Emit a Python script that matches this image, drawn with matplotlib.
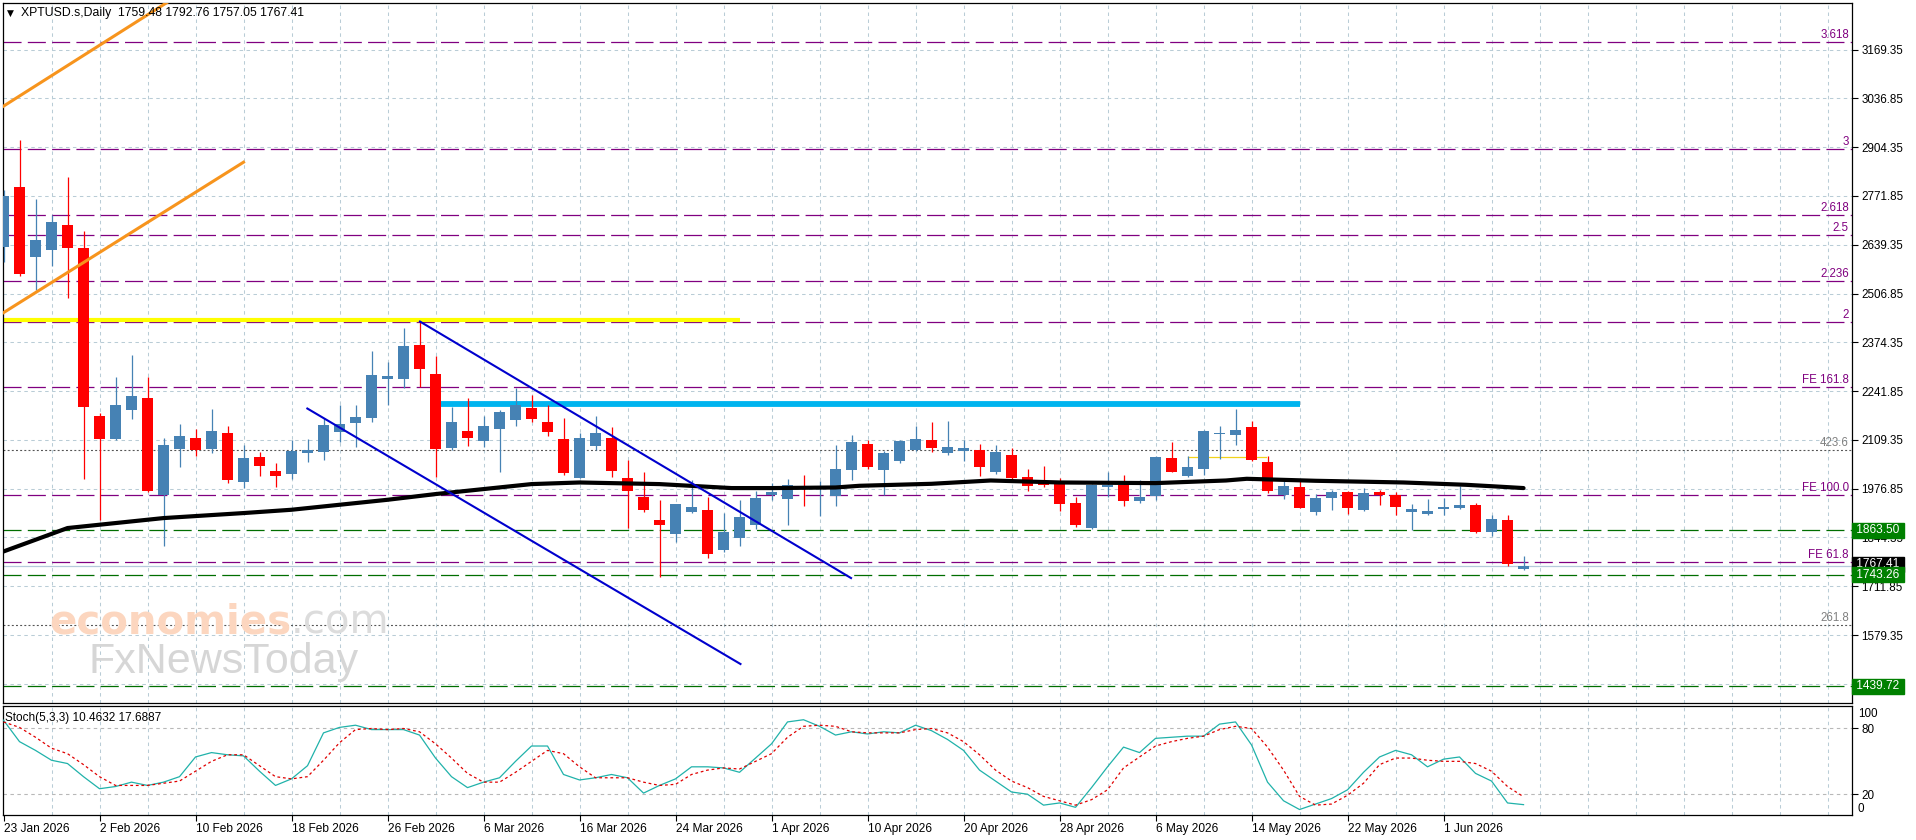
import matplotlib
matplotlib.use('Agg')
import matplotlib.pyplot as plt
import matplotlib.transforms as mtransforms

plt.rcParams['lines.scale_dashes'] = False
plt.rcParams['font.family'] = ['Liberation Sans', 'DejaVu Sans']

# ------------------------------------------------------------------ data
date_labels = ["23 Jan 2026", "2 Feb 2026", "10 Feb 2026", "18 Feb 2026", "26 Feb 2026",
               "6 Mar 2026", "16 Mar 2026", "24 Mar 2026", "1 Apr 2026", "10 Apr 2026",
               "20 Apr 2026", "28 Apr 2026", "6 May 2026", "14 May 2026", "22 May 2026",
               "1 Jun 2026"]
date_pos = [0, 6, 12, 18, 24, 30, 36, 42, 48, 54, 60, 66, 72, 78, 84, 90]

opens = [2634.4, 2797.3, 2607.3, 2626.3, 2693.3, 2630.9, 2174.8, 2111.5, 2191.0, 2224.4,
         1960.3, 2085.2, 2115.0, 2085.2, 2128.6, 1994.8, 2062.6, 2025.4, 2016.5, 2073.5,
         2076.2, 2132.1, 2156.6, 2170.1, 2274.4, 2276.0, 2367.5, 2288.8, 2088.7, 2134.0,
         2107.7, 2140.3, 2164.7, 2197.3, 2158.5, 2112.3, 2007.2, 2093.3, 2115.0, 2005.6,
         1954.8, 1892.4, 1852.5, 1912.2, 1917.6, 1809.0, 1841.6, 1878.8, 1958.4, 1947.5,
         1982.0, 1976.6, 1955.7, 2026.3, 2098.7, 2026.3, 2050.7, 2082.4, 2109.6, 2073.5,
         2078.9, 2082.4, 2020.8, 2068.9, 2009.1, 1996.4, 1990.1, 1938.6, 1868.8, 1980.1,
         1987.4, 1943.2, 1955.7, 2060.7, 2010.0, 2029.0, 2125.1, 2124.0, 2144.9, 2049.9,
         1960.3, 1980.1, 1912.2, 1951.3, 1968.4, 1917.6, 1967.6, 1958.4, 1912.2, 1906.8,
         1920.4, 1925.0, 1933.1, 1859.0, 1892.4, 1759.48]
highs = [2788.3, 2924.1, 2763.9, 2720.5, 2824.5, 2677.0, 2182.1, 2281.5, 2340.4, 2281.5,
         2114.2, 2153.0, 2138.6, 2194.6, 2147.6, 2096.0, 2077.8, 2046.3, 2109.6, 2111.5,
         2168.5, 2204.6, 2204.6, 2351.2, 2320.6, 2412.9, 2430.8, 2337.7, 2200.0, 2222.8,
         2174.8, 2191.0, 2250.0, 2231.8, 2204.6, 2168.5, 2129.4, 2174.8, 2145.7, 2055.3,
         2020.8, 1946.7, 1935.8, 2001.0, 1954.0, 1910.6, 1944.8, 1970.3, 1992.0, 2003.7,
         2012.7, 1996.4, 2096.0, 2123.2, 2109.6, 2078.0, 2108.0, 2147.6, 2159.3, 2161.2,
         2108.8, 2098.7, 2096.0, 2087.1, 2030.0, 2039.0, 2005.6, 1952.9, 1990.0, 2020.8,
         2014.6, 1999.1, 2065.0, 2102.3, 2066.2, 2136.0, 2147.6, 2193.8, 2161.2, 2066.2,
         1999.1, 1996.4, 1962.2, 1973.8, 1970.0, 1978.5, 1973.8, 1966.6, 1935.8, 1948.6,
         1951.3, 1982.8, 1938.6, 1906.0, 1906.0, 1792.76]
lows = [2593.7, 2555.7, 2516.8, 2582.0, 2494.3, 2003.7, 1892.4, 2108.0, 2166.6, 1968.0,
        1819.9, 2034.4, 2064.3, 2075.1, 1992.0, 1978.5, 2010.0, 1980.1, 2002.9, 2048.0,
        2053.4, 2105.0, 2091.4, 2159.3, 2204.6, 2250.0, 2254.3, 2008.3, 2080.6, 2094.1,
        2091.4, 2023.5, 2147.6, 2159.3, 2121.3, 2014.6, 2005.6, 2082.4, 2008.3, 1869.9,
        1914.1, 1736.8, 1830.8, 1910.0, 1788.4, 1805.0, 1819.9, 1867.1, 1946.7, 1876.9,
        1930.4, 1903.3, 1930.4, 1999.1, 2030.0, 1959.5, 2047.0, 2079.0, 2076.2, 2068.1,
        2050.7, 2010.0, 2016.5, 2001.0, 1969.2, 1980.1, 1914.9, 1871.5, 1866.0, 1954.0,
        1928.5, 1936.7, 1946.7, 2020.8, 2008.3, 2014.6, 2057.2, 2096.0, 2051.8, 1964.9,
        1949.4, 1923.1, 1904.1, 1917.6, 1906.8, 1915.0, 1933.1, 1904.1, 1864.4, 1905.2,
        1905.2, 1921.4, 1856.3, 1849.0, 1768.0, 1757.05]
closes = [2772.1, 2560.3, 2652.6, 2701.5, 2631.7, 2198.4, 2111.5, 2204.6, 2229.1, 1971.9,
          2096.0, 2120.5, 2080.6, 2134.0, 1999.1, 2060.7, 2039.8, 2010.0, 2079.7, 2082.4,
          2151.1, 2153.0, 2172.9, 2286.1, 2283.4, 2364.8, 2302.4, 2085.2, 2158.5, 2115.8,
          2147.6, 2185.6, 2203.8, 2167.4, 2132.1, 2019.2, 2115.0, 2128.6, 2026.2, 1971.9,
          1917.6, 1878.8, 1935.8, 1927.7, 1800.1, 1859.8, 1900.5, 1952.1, 1966.5, 1987.4,
          1976.6, 1980.6, 2030.9, 2104.2, 2034.4, 2074.3, 2106.9, 2112.3, 2088.7, 2090.6,
          2087.9, 2034.4, 2077.0, 2007.2, 1982.8, 1985.5, 1933.9, 1876.9, 1987.4, 1987.4,
          1942.1, 1954.8, 2063.4, 2023.5, 2035.5, 2134.0, 2129.4, 2136.7, 2055.3, 1969.2,
          1984.7, 1923.1, 1952.1, 1967.6, 1923.1, 1964.9, 1959.5, 1925.8, 1922.3, 1916.0,
          1927.7, 1933.1, 1857.9, 1895.1, 1771.0, 1767.41]

ma_idx = [0, 4, 10, 15, 18, 24, 27, 33, 36, 41, 45.5, 48, 52, 53.5, 58, 61.7, 66, 72,
          76.4, 77.7, 82, 87.5, 91.4, 93.3, 95]
ma_val = [1806.3, 1869.9, 1897.0, 1910.6, 1919.6, 1946.7, 1962.2, 1989.3, 1993.7, 1989.3,
          1978.5, 1978.5, 1980.1, 1984.7, 1990.1, 1999.1, 1993.7, 1992.0, 1999.1, 2003.7,
          1998.3, 1993.7, 1987.4, 1982.8, 1978.5]

stoch_k = [87.6, 68, 60, 51, 48, 36, 25, 27, 31, 28, 31, 36, 54, 58, 56, 55, 41, 28, 34, 46,
           76, 81, 83, 79, 79, 79, 74, 53, 36, 26, 31, 35, 50, 64, 64, 38, 33, 35, 38, 35,
           21, 28, 34, 45, 45, 44, 40, 53, 66, 86, 88, 82, 74, 77, 75, 77, 76, 83, 78, 70,
           60, 42, 32, 22, 20, 10, 12, 8, 26, 45, 63, 58, 71, 72, 73, 73, 84, 86, 65, 31,
           14, 6, 11, 16, 24, 40, 54, 60, 56, 45, 52, 54, 39, 32, 12, 10.46]
stoch_d = [86, 81, 72, 62, 57, 47, 36, 28, 28, 28, 30, 32, 41, 50, 56, 56, 46, 36, 34, 36,
           51, 67, 79, 80, 79, 80, 77, 66, 53, 39, 31, 31, 40, 50, 60, 57, 45, 35, 35, 35,
           31, 28, 29, 38, 42, 44, 43, 50, 57, 72, 82, 83, 82, 77, 76, 76, 76, 79, 80, 76,
           68, 56, 42, 32, 26, 18, 14, 10, 15, 24, 44, 54, 64, 68, 71, 73, 79, 82, 80, 63,
           42, 18, 10, 11, 19, 30, 47, 53, 53, 51, 50, 50, 48, 41, 27, 17.69]

price_ticks = [3169.35, 3036.85, 2904.35, 2771.85, 2639.35, 2506.85, 2374.35, 2241.85,
               2109.35, 1976.85, 1844.35, 1711.85, 1579.35, 1446.85]
fib_levels = [3191.0, 2900.5, 2720.5, 2665.5, 2540.0, 2430.0, 2252.0, 1959.5, 1778.5]
fib_labels = ['3.618', '3', '2.618', '2.5', '2.236', '2', 'FE 161.8', 'FE 100.0', 'FE 61.8']
dot_levels = [2082.4, 1605.4]
dot_labels = ['423.6', '261.8']
sr_levels = [1863.50, 1743.26, 1439.72]
last_price = 1767.41
title_text = 'XPTUSD.s,Daily  1759.48 1792.76 1757.05 1767.41'
stoch_text = 'Stoch(5,3,3) 10.4632 17.6887'

orange_upper = ([-0.05, 12.0], [3014.5, 3346.5])
orange_lower = ([-0.05, 15.0], [2453.6, 2863.6])
blue_upper = ([26.03, 52.97], [2430.8, 1734.1])
blue_lower = ([18.99, 46.06], [2194.6, 1500.6])
yellow_line = ([-0.1, 46.0], [2435.4, 2435.4])
cyan_line = ([27.3, 81.0], [2207.3, 2207.3])
gold_line = ([74.0, 78.9], [2063.4, 2063.4])

# ------------------------------------------------------------------ layout
W, H = 1916, 840
fig = plt.figure(figsize=(W / 100, H / 100), dpi=100)
fig.patch.set_facecolor('white')
L, R = 2.7, 1851.7
MAIN_T, MAIN_B = 2.7, 703.0
ST_T, ST_B = 705.5, 815.0
ax = fig.add_axes([L / W, 1 - MAIN_B / H, (R - L) / W, (MAIN_B - MAIN_T) / H])
axs = fig.add_axes([L / W, 1 - ST_B / H, (R - L) / W, (ST_B - ST_T) / H])

XMIN, XMAX = -0.05, 115.51
for a in (ax, axs):
    a.set_xlim(XMIN, XMAX)
    for s in a.spines.values():
        s.set_color('black')
        s.set_linewidth(0.9)
ax.set_ylim(1394.7, 3296.9)
axs.set_ylim(1.0, 101.0)

GRID_C = '#b9ccd6'
gdash = (0, (2.5, 2.5))
vgrid = list(range(3, 116, 3))
for a in (ax, axs):
    for g in vgrid:
        a.axvline(g, color=GRID_C, lw=0.75, ls=gdash, zorder=0.2)
for p in price_ticks:
    ax.axhline(p, color=GRID_C, lw=0.75, ls=gdash, zorder=0.2)

# ------------------------------------------------------------------ watermark
t1 = fig.text(49 / W, 1 - 633 / H, 'economies', fontsize=29, fontweight='bold',
              family=['DejaVu Sans'], color='#fcd6bf', zorder=0.3)
fig.canvas.draw()
bb = t1.get_window_extent()
fig.text(bb.x1 / W, 1 - 633 / H, '.com', fontsize=29, family=['DejaVu Sans'],
         color='#dcdcdc', zorder=0.3)
fig.text(89 / W, 1 - 673 / H, 'FxNewsToday', fontsize=31,
         family=['Liberation Sans Narrow', 'Liberation Sans', 'DejaVu Sans'],
         color='#d6d6d6', zorder=0.3)

# ------------------------------------------------------------------ levels
PURPLE = '#800080'
GREEN = '#006e00'
dash_long = (0, (13, 4.5))
blend = mtransforms.blended_transform_factory(ax.transAxes, ax.transData)
for lv, lb in zip(fib_levels, fib_labels):
    ax.axhline(lv, color=PURPLE, lw=0.9, ls=dash_long, zorder=1)
    ax.text(0.9985, lv + 3, lb, transform=blend,
            ha='right', va='bottom', color=PURPLE, fontsize=8.3, zorder=1.1)
for lv, lb in zip(dot_levels, dot_labels):
    ax.axhline(lv, color='#555555', lw=0.8, ls=(0, (1.4, 1.6)), zorder=1)
    ax.text(0.9985, lv + 3, lb, transform=blend,
            ha='right', va='bottom', color='#808080', fontsize=8.3, zorder=1.1)
for lv in sr_levels:
    ax.axhline(lv, color=GREEN, lw=0.9, ls=dash_long, zorder=1)
ax.axhline(last_price, color='#b5c9db', lw=0.9, zorder=1)

# ------------------------------------------------------------------ drawings
ax.plot(*yellow_line, color='#ffff00', lw=3.0, solid_capstyle='butt', zorder=2)
ax.plot(*cyan_line, color='#00b4ef', lw=4.2, solid_capstyle='butt', zorder=2)
ax.plot(*gold_line, color='#f2d21b', lw=0.9, zorder=2)
ax.plot(*orange_upper, color='#f7941d', lw=2.2, zorder=4)
ax.plot(*orange_lower, color='#f7941d', lw=2.2, zorder=4)

# ------------------------------------------------------------------ candles
BULL, BEAR = '#4682b4', '#ff0000'
BW = 0.67
for i, (o, h, l, c) in enumerate(zip(opens, highs, lows, closes)):
    col = BULL if c >= o else BEAR
    ax.vlines(i, l, h, color=col, lw=0.9, zorder=3)
    bot = min(o, c)
    ht = max(abs(c - o), 2.7)
    ax.bar(i, ht, BW, bottom=bot, color=col, lw=0, zorder=3.1)

ax.plot(ma_idx, ma_val, color='black', lw=3.0, zorder=4, solid_capstyle='round')
ax.plot(*blue_upper, color='#0000cd', lw=1.5, zorder=4.1)
ax.plot(*blue_lower, color='#0000cd', lw=1.5, zorder=4.1)

# ------------------------------------------------------------------ main axis ticks
ax.set_xticks([])
ax.yaxis.tick_right()
ax.set_yticks(price_ticks)
ax.set_yticklabels([f'{p:.2f}' for p in price_ticks])
ax.tick_params(axis='y', length=4, width=0.8, pad=3, labelsize=8.4, colors='black')

def box_label(y, txt, fc, z):
    ax.text(1.0008, y, txt, transform=blend,
            ha='left', va='center', color='white', fontsize=8.6, clip_on=False, zorder=z,
            bbox=dict(boxstyle='square,pad=0.12', fc=fc, ec=fc))

box_label(sr_levels[0], ' 1863.50 ', '#008000', 10)
box_label(last_price + 4, ' 1767.41 ', '#000000', 10)
box_label(sr_levels[1], ' 1743.26 ', '#008000', 11)
box_label(sr_levels[2], ' 1439.72 ', '#008000', 10)

# ------------------------------------------------------------------ stochastic
idx = list(range(len(stoch_k)))
axs.axhline(80, color='#b8b8b8', lw=0.8, ls=gdash, zorder=0.5)
axs.axhline(20, color='#b8b8b8', lw=0.8, ls=gdash, zorder=0.5)
axs.plot(idx, stoch_k, color='#20b2aa', lw=0.9, zorder=3)
axs.plot(idx, stoch_d, color='#e00000', lw=0.9, ls=(0, (2, 2)), zorder=3)
axs.text(0.0015, 0.94, stoch_text, transform=axs.transAxes, ha='left', va='top',
         fontsize=8.5, color='black', zorder=5)

axs.yaxis.tick_right()
axs.set_yticks([80, 20])
axs.set_yticklabels(['80', '20'])
axs.tick_params(axis='y', length=4, width=0.8, pad=3, labelsize=8.4, colors='black')
fig.text(1858 / W, 1 - 714 / H, '100', ha='left', va='center', fontsize=8.4)
fig.text(1858 / W, 1 - 809 / H, '0', ha='left', va='center', fontsize=8.4)

axs.set_xticks(date_pos)
axs.set_xticklabels(date_labels)
axs.tick_params(axis='x', length=4, width=0.8, pad=2, labelsize=8.6, colors='black')
for lab in axs.get_xticklabels():
    lab.set_horizontalalignment('left')

# ------------------------------------------------------------------ title
fig.text(7 / W, 1 - 13 / H, '\u25BC', ha='left', va='center', fontsize=6.5,
         family=['DejaVu Sans'], color='black')
fig.text(21 / W, 1 - 13 / H, title_text, ha='left', va='center', fontsize=8.8, color='black')

fig.savefig('out.png', dpi=100, facecolor='white')
